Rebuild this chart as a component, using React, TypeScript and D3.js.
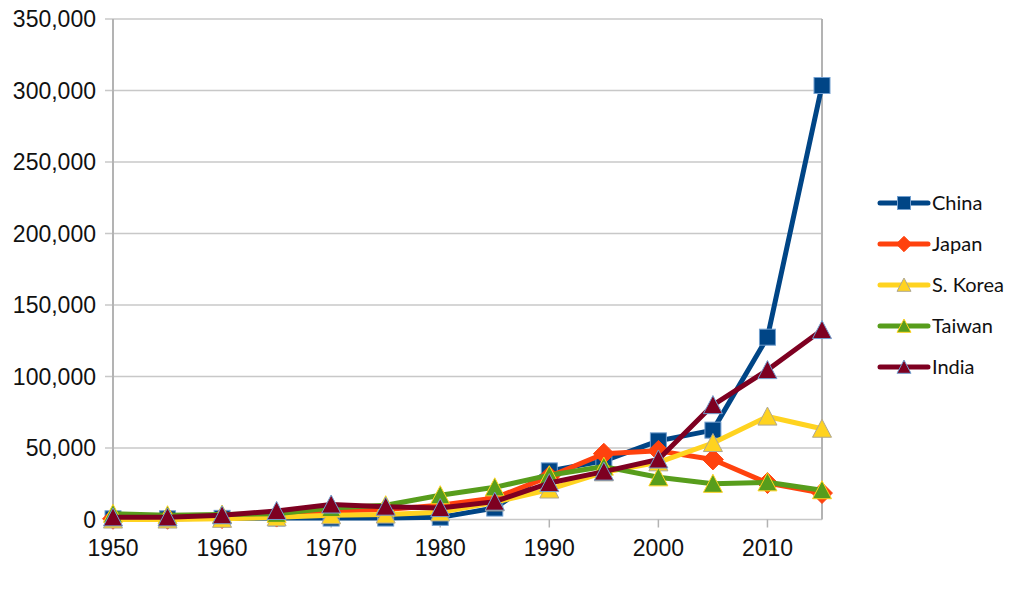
import React from "react";
import * as d3 from "d3";

const years = [1950, 1955, 1960, 1965, 1970, 1975, 1980, 1985, 1990, 1995, 2000, 2005, 2010, 2015];
const china = [500, 500, 800, 1000, 1000, 1000, 1500, 8000, 34000, 41000, 55000, 62500, 127500, 303500];
const japan = [500, 500, 1000, 2000, 6000, 7000, 10000, 15000, 30000, 46000, 48000, 42000, 25500, 18500];
const korea = [0, 0, 500, 1500, 3000, 3500, 5000, 12000, 21000, 33000, 40000, 53500, 72000, 63500];
const taiwan = [4000, 3000, 3500, 4000, 8000, 10000, 17000, 22500, 31000, 37000, 29500, 25000, 26000, 20500];
const india = [1500, 1500, 3000, 6000, 10500, 9000, 8000, 12500, 25500, 33500, 42000, 80000, 104500, 132500];
const yTicks = [0, 50000, 100000, 150000, 200000, 250000, 300000, 350000];
const xTicks = [1950, 1960, 1970, 1980, 1990, 2000, 2010];

type Series = { name: string; values: number[]; color: string; marker: string; stroke: string };
const series: Series[] = [
  { name: "China", values: china, color: "#004586", marker: "square", stroke: "#729fcf" },
  { name: "Japan", values: japan, color: "#ff420e", marker: "diamond", stroke: "#ff420e" },
  { name: "S. Korea", values: korea, color: "#ffd320", marker: "triangle", stroke: "#b0a890" },
  { name: "Taiwan", values: taiwan, color: "#579d1c", marker: "triangle", stroke: "#ffd320" },
  { name: "India", values: india, color: "#7e0021", marker: "triangle", stroke: "#729fcf" },
];

const left = 113, right = 822, top = 19, bottom = 519.5;

function Marker({ kind, x, y, fill, stroke, s }: { kind: string; x: number; y: number; fill: string; stroke: string; s: number }) {
  if (kind === "square") {
    return <rect x={x - s / 2} y={y - s / 2} width={s} height={s} fill={fill} stroke={stroke} strokeWidth={1} />;
  }
  if (kind === "diamond") {
    const h = s * 0.55;
    return <path d={`M${x},${y - h}L${x + h},${y}L${x},${y + h}L${x - h},${y}Z`} fill={fill} stroke={stroke} strokeWidth={1} />;
  }
  const h = s * 0.5;
  return <path d={`M${x},${y - h}L${x + h},${y + h * 0.9}L${x - h},${y + h * 0.9}Z`} fill={fill} stroke={stroke} strokeWidth={1} />;
}

export default function App() {
  const x = d3.scaleLinear().domain([1950, 2015]).range([left, right]);
  const y = d3.scaleLinear().domain([0, 350000]).range([bottom, top]);
  const line = d3.line<number>().x((_, i) => x(years[i])).y((v) => y(v));
  const fmt = d3.format(",");
  const legendX = 880, legendY0 = 203, legendStep = 41;

  return (
    <svg width={1024} height={613} style={{ position: "absolute", left: 0, top: 0, background: "#fff" }}>
      <rect width={1024} height={613} fill="#fff" />
      {yTicks.map((t) => (
        <g key={t}>
          <line x1={left - 8} x2={right} y1={y(t)} y2={y(t)} stroke="#c8c8c8" strokeWidth={1.5} />
          <text x={96} y={y(t)} dy="0.36em" textAnchor="end" fontFamily="Liberation Sans, Arial, sans-serif" fontSize={23} fill="#111">
            {fmt(t)}
          </text>
        </g>
      ))}
      <line x1={left} x2={left} y1={top} y2={bottom} stroke="#b3b3b3" strokeWidth={2} />
      <line x1={right} x2={right} y1={top} y2={bottom} stroke="#b3b3b3" strokeWidth={2} />
      {xTicks.map((t) => (
        <g key={t}>
          <line x1={x(t)} x2={x(t)} y1={bottom} y2={bottom + 8} stroke="#b3b3b3" strokeWidth={1.5} />
          <text x={x(t)} y={556} textAnchor="middle" fontFamily="Liberation Sans, Arial, sans-serif" fontSize={23} fill="#111">
            {t}
          </text>
        </g>
      ))}
      {series.map((s) => (
        <g key={s.name}>
          <path d={line(s.values) || ""} fill="none" stroke={s.color} strokeWidth={5} strokeLinejoin="round" />
          {s.values.map((v, i) => (
            <Marker key={i} kind={s.marker} x={x(years[i])} y={y(v)} fill={s.color} stroke={s.stroke} s={s.marker === "square" ? 16 : 19} />
          ))}
        </g>
      ))}
      {series.map((s, i) => {
        const ly = legendY0 + i * legendStep;
        return (
          <g key={s.name}>
            <line x1={legendX} x2={legendX + 48} y1={ly} y2={ly} stroke={s.color} strokeWidth={5} strokeLinecap="round" />
            <Marker kind={s.marker} x={legendX + 24} y={ly} fill={s.color} stroke={s.stroke} s={s.marker === "square" ? 13 : 14} />
            <text x={legendX + 52} y={ly} dy="0.36em" fontFamily="Lato, Carlito, sans-serif" fontSize={20} fill="#111">
              {s.name}
            </text>
          </g>
        );
      })}
    </svg>
  );
}
